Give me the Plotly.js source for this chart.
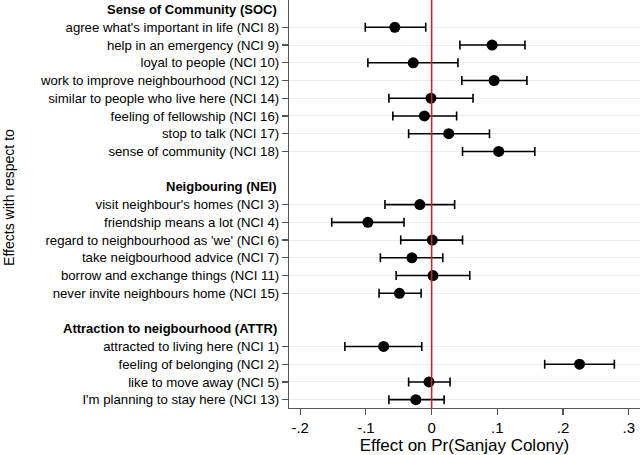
<!DOCTYPE html>
<html>
<head>
<meta charset="utf-8">
<script src="https://cdn.plot.ly/plotly-3.0.1.min.js"></script>
<style>html,body{margin:0;padding:0;background:#fff;}#chart{width:640px;height:455px;}</style>
</head>
<body>
<div id="chart"></div>
<script>
// Group headers
const groups = ["Sense of Community (SOC)", "Neigbouring (NEI)", "Attraction to neigbourhood (ATTR)"];
// Item labels per group
const socLabels = ["agree what's important in life (NCI 8)", "help in an emergency (NCI 9)", "loyal to people (NCI 10)", "work to improve neighbourhood (NCI 12)", "similar to people who live here (NCI 14)", "feeling of fellowship (NCI 16)", "stop to talk (NCI 17)", "sense of community (NCI 18)"];
const neiLabels = ["visit neighbour's homes (NCI 3)", "friendship means a lot (NCI 4)", "regard to neighbourhood as 'we' (NCI 6)", "take neigbourhood advice (NCI 7)", "borrow and exchange things (NCI 11)", "never invite neighbours home (NCI 15)"];
const attrLabels = ["attracted to living here (NCI 1)", "feeling of belonging (NCI 2)", "like to move away (NCI 5)", "I'm planning to stay here (NCI 13)"];
// Point estimates
const socEst = [-0.056, 0.092, -0.028, 0.095, -0.001, -0.011, 0.026, 0.102];
const neiEst = [-0.018, -0.097, 0.001, -0.030, 0.002, -0.049];
const attrEst = [-0.073, 0.225, -0.004, -0.024];
// Lower CI
const socLo = [-0.101, 0.043, -0.097, 0.046, -0.065, -0.059, -0.035, 0.047];
const neiLo = [-0.071, -0.152, -0.047, -0.078, -0.054, -0.080];
const attrLo = [-0.132, 0.172, -0.035, -0.065];
// Upper CI
const socHi = [-0.009, 0.142, 0.040, 0.145, 0.063, 0.038, 0.088, 0.157];
const neiHi = [0.035, -0.042, 0.047, 0.017, 0.058, -0.016];
const attrHi = [-0.015, 0.278, 0.028, 0.019];
// x axis ticks
const xTickVals = [-0.2, -0.1, 0, 0.1, 0.2, 0.3];
const xTickText = ["-.2", "-.1", "0", ".1", ".2", ".3"];

// Build row layout: header, items, blank line between groups
const itemLabels = [], est = [], lo = [], hi = [], rows = [], headerRows = [];
let r = 0;
[[socLabels, socEst, socLo, socHi], [neiLabels, neiEst, neiLo, neiHi], [attrLabels, attrEst, attrLo, attrHi]].forEach((g) => {
  headerRows.push(r); r++;
  g[0].forEach((lab, i) => {
    itemLabels.push(lab); est.push(g[1][i]); lo.push(g[2][i]); hi.push(g[3][i]); rows.push(r); r++;
  });
  r++;
});

const trace = {
  type: 'scatter', mode: 'markers',
  x: est, y: rows,
  marker: {color: '#000', size: 11},
  error_x: {type: 'data', symmetric: false,
    array: est.map((v, i) => hi[i] - v),
    arrayminus: est.map((v, i) => v - lo[i]),
    color: '#000', thickness: 1.6, width: 4.5},
  hoverinfo: 'none', showlegend: false, cliponaxis: false
};

const font = "Liberation Sans, Arial, Helvetica, sans-serif";
const annotations = groups.map((g, i) => ({
  text: '<b>' + g + '</b>', xref: 'paper', yref: 'y', x: 0, y: headerRows[i],
  xanchor: 'right', yanchor: 'middle', xshift: -10, showarrow: false,
  font: {family: font, size: 13, color: '#000'}
}));
annotations.push({
  text: 'Effects with respect to', xref: 'paper', yref: 'paper',
  x: (9 - 289) / 351, y: 0.515, xanchor: 'center', yanchor: 'middle',
  textangle: -90, showarrow: false, font: {family: font, size: 14, color: '#000'}
});

const layout = {
  width: 640, height: 455,
  margin: {l: 289, r: 0, t: 0, b: 47, pad: 0},
  paper_bgcolor: '#fff', plot_bgcolor: '#fff',
  font: {family: font, color: '#000'},
  xaxis: {
    range: [-0.217, 0.317], tickvals: xTickVals, ticktext: xTickText,
    showgrid: false, zeroline: false, showline: true, linecolor: '#555', linewidth: 1.2,
    ticks: 'outside', ticklen: 6, tickcolor: '#555', tickwidth: 1.2,
    tickfont: {size: 15, family: font},
    title: {text: 'Effect on Pr(Sanjay Colony)', font: {size: 17, family: font}, standoff: 3}
  },
  yaxis: {
    range: [22.47, -0.54], tickvals: rows, ticktext: itemLabels,
    showgrid: true, gridcolor: '#e6eef0', gridwidth: 1,
    zeroline: false, showline: true, linecolor: '#555', linewidth: 1.2,
    ticks: 'outside', ticklen: 6, tickcolor: '#555', tickwidth: 1.2,
    tickfont: {size: 13.2, family: font}
  },
  shapes: [{type: 'line', xref: 'x', yref: 'paper', x0: 0, x1: 0, y0: 0, y1: 1,
    line: {color: '#c0282f', width: 1.6}}],
  annotations: annotations
};

Plotly.newPlot('chart', [trace], layout, {displayModeBar: false, staticPlot: true});
</script>
</body>
</html>
